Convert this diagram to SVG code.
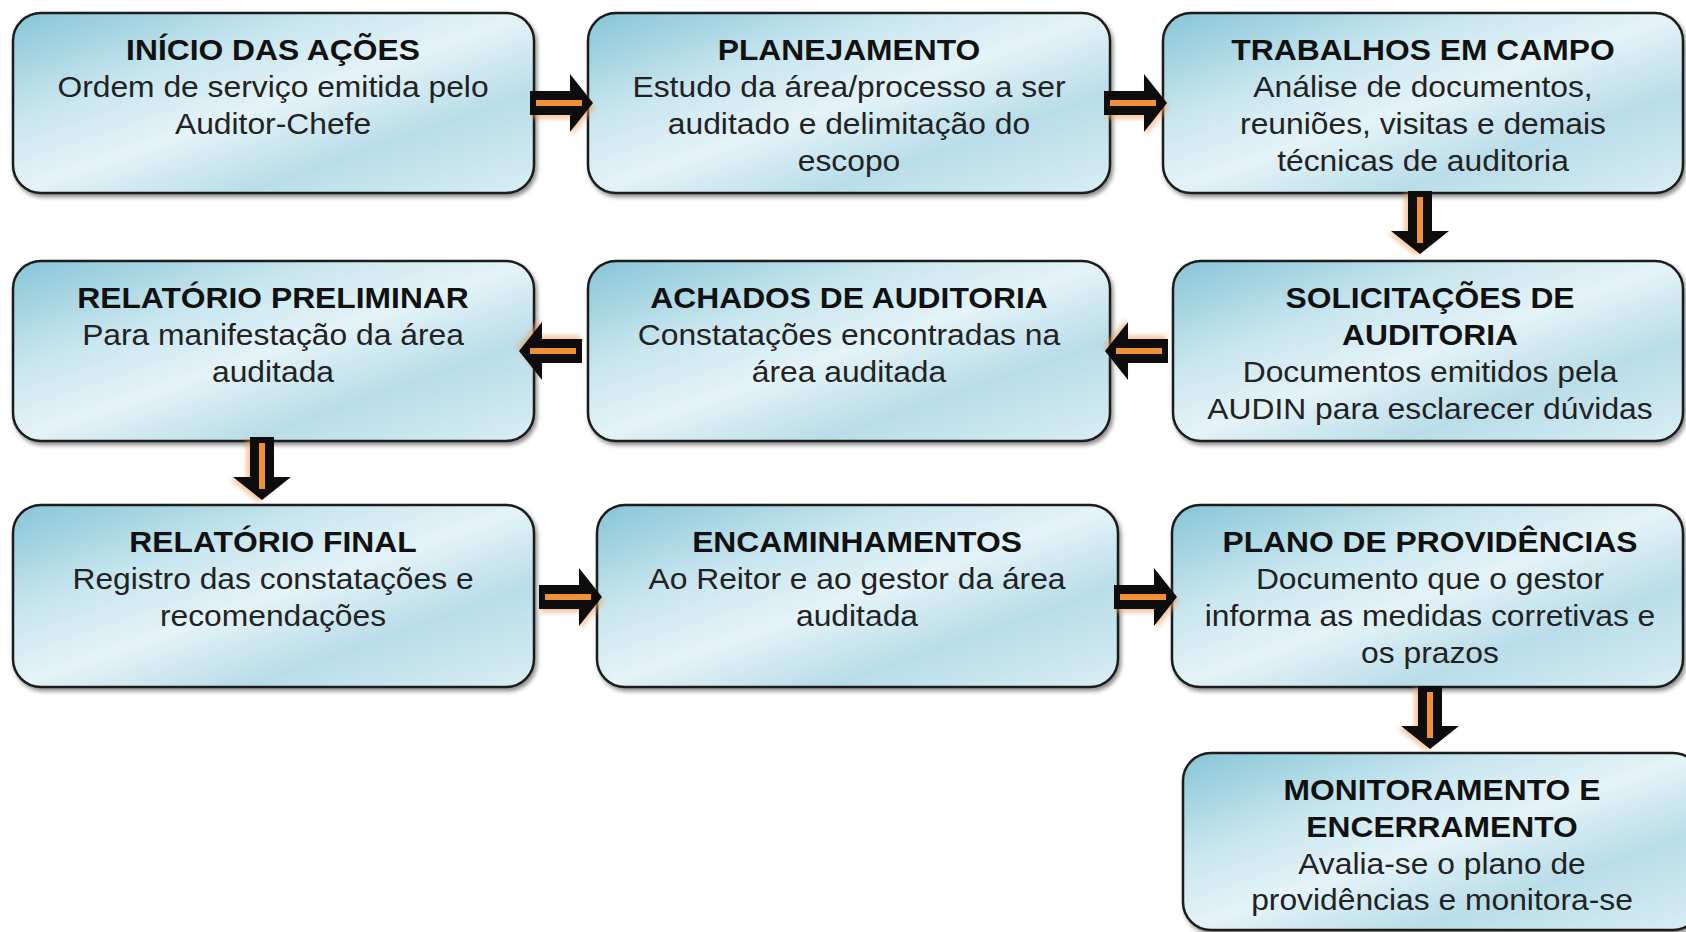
<svg xmlns="http://www.w3.org/2000/svg" xmlns:xlink="http://www.w3.org/1999/xlink" width="1686" height="932" viewBox="0 0 1686 932">
<defs>
<linearGradient id="boxfill" x1="0" y1="0" x2="1" y2="1">
<stop offset="0" stop-color="#86c5d7"/>
<stop offset="0.3" stop-color="#c9e6ee"/>
<stop offset="0.5" stop-color="#e4f3f7"/>
<stop offset="0.72" stop-color="#b9dde8"/>
<stop offset="1" stop-color="#d9eef4"/>
</linearGradient>
<filter id="shadow" x="-5%" y="-5%" width="112%" height="115%">
<feDropShadow dx="2" dy="3" stdDeviation="2" flood-color="#000" flood-opacity="0.45"/>
</filter>
<filter id="glow" x="-20%" y="-30%" width="140%" height="170%">
<feGaussianBlur stdDeviation="2"/>
</filter>
<g id="arrow">
<path d="M0,-12 H40 V-29 L63,0 L40,29 V12 H0 Z" fill="#f0a060" opacity="0.55" transform="translate(2,4)" filter="url(#glow)"/>
<path d="M0,-12 H40 V-29 L63,0 L40,29 V12 H0 Z" fill="#0d0d0d"/>
<rect x="6" y="-3" width="46" height="6" fill="#f0913a"/>
</g>
</defs>
<style>
.box{fill:url(#boxfill);stroke:#1e1e1e;stroke-width:2.5;filter:url(#shadow)}
.t{font-family:"Liberation Sans",Arial,sans-serif;font-size:30px;font-weight:bold;fill:#111;text-anchor:middle}
.d{font-family:"Liberation Sans",Arial,sans-serif;font-size:30px;fill:#222;text-anchor:middle}
</style>
<rect width="1686" height="932" fill="#fff"/>

<g id="n1">
<rect class="box" x="13" y="13" width="521" height="180" rx="28"/>
<g transform="translate(273,0) scale(1.06,1)">
<text class="t" x="0" y="60">INÍCIO DAS AÇÕES</text>
<text class="d" x="0" y="97">Ordem de serviço emitida pelo</text>
<text class="d" x="0" y="134">Auditor-Chefe</text>
</g>
</g>
<g id="n2">
<rect class="box" x="588" y="13" width="522" height="180" rx="28"/>
<g transform="translate(849,0) scale(1.06,1)">
<text class="t" x="0" y="60">PLANEJAMENTO</text>
<text class="d" x="0" y="97">Estudo da área/processo a ser</text>
<text class="d" x="0" y="134">auditado e delimitação do</text>
<text class="d" x="0" y="171">escopo</text>
</g>
</g>
<g id="n3">
<rect class="box" x="1163" y="13" width="520" height="180" rx="28"/>
<g transform="translate(1423,0) scale(1.06,1)">
<text class="t" x="0" y="60">TRABALHOS EM CAMPO</text>
<text class="d" x="0" y="97">Análise de documentos,</text>
<text class="d" x="0" y="134">reuniões, visitas e demais</text>
<text class="d" x="0" y="171">técnicas de auditoria</text>
</g>
</g>
<g id="n4">
<rect class="box" x="13" y="261" width="521" height="180" rx="28"/>
<g transform="translate(273,0) scale(1.06,1)">
<text class="t" x="0" y="308">RELATÓRIO PRELIMINAR</text>
<text class="d" x="0" y="345">Para manifestação da área</text>
<text class="d" x="0" y="382">auditada</text>
</g>
</g>
<g id="n5">
<rect class="box" x="588" y="261" width="522" height="180" rx="28"/>
<g transform="translate(849,0) scale(1.06,1)">
<text class="t" x="0" y="308">ACHADOS DE AUDITORIA</text>
<text class="d" x="0" y="345">Constatações encontradas na</text>
<text class="d" x="0" y="382">área auditada</text>
</g>
</g>
<g id="n6">
<rect class="box" x="1173" y="261" width="510" height="180" rx="28"/>
<g transform="translate(1430,0) scale(1.06,1)">
<text class="t" x="0" y="308">SOLICITAÇÕES DE</text>
<text class="t" x="0" y="345">AUDITORIA</text>
<text class="d" x="0" y="382">Documentos emitidos pela</text>
<text class="d" x="0" y="419">AUDIN para esclarecer dúvidas</text>
</g>
</g>
<g id="n7">
<rect class="box" x="13" y="505" width="521" height="182" rx="28"/>
<g transform="translate(273,0) scale(1.06,1)">
<text class="t" x="0" y="552">RELATÓRIO FINAL</text>
<text class="d" x="0" y="589">Registro das constatações e</text>
<text class="d" x="0" y="626">recomendações</text>
</g>
</g>
<g id="n8">
<rect class="box" x="597" y="505" width="521" height="182" rx="28"/>
<g transform="translate(857,0) scale(1.06,1)">
<text class="t" x="0" y="552">ENCAMINHAMENTOS</text>
<text class="d" x="0" y="589">Ao Reitor e ao gestor da área</text>
<text class="d" x="0" y="626">auditada</text>
</g>
</g>
<g id="n9">
<rect class="box" x="1172" y="505" width="511" height="182" rx="28"/>
<g transform="translate(1430,0) scale(1.06,1)">
<text class="t" x="0" y="552">PLANO DE PROVIDÊNCIAS</text>
<text class="d" x="0" y="589">Documento que o gestor</text>
<text class="d" x="0" y="626">informa as medidas corretivas e</text>
<text class="d" x="0" y="663">os prazos</text>
</g>
</g>
<g id="n10">
<rect class="box" x="1183" y="753" width="518" height="177" rx="28"/>
<g transform="translate(1442,0) scale(1.06,1)">
<text class="t" x="0" y="800">MONITORAMENTO E</text>
<text class="t" x="0" y="837">ENCERRAMENTO</text>
<text class="d" x="0" y="874">Avalia-se o plano de</text>
<text class="d" x="0" y="910">providências e monitora-se</text>
</g>
</g>

<g id="connectors">
<use xlink:href="#arrow" transform="translate(530,103)"/>
<use xlink:href="#arrow" transform="translate(1104,103)"/>
<use xlink:href="#arrow" transform="translate(1420,191) rotate(90)"/>
<use xlink:href="#arrow" transform="translate(1168,351) rotate(180)"/>
<use xlink:href="#arrow" transform="translate(582,351) rotate(180)"/>
<use xlink:href="#arrow" transform="translate(262,437) rotate(90)"/>
<use xlink:href="#arrow" transform="translate(539,597)"/>
<use xlink:href="#arrow" transform="translate(1114,597)"/>
<use xlink:href="#arrow" transform="translate(1430,686) rotate(90)"/>
</g>
</svg>
